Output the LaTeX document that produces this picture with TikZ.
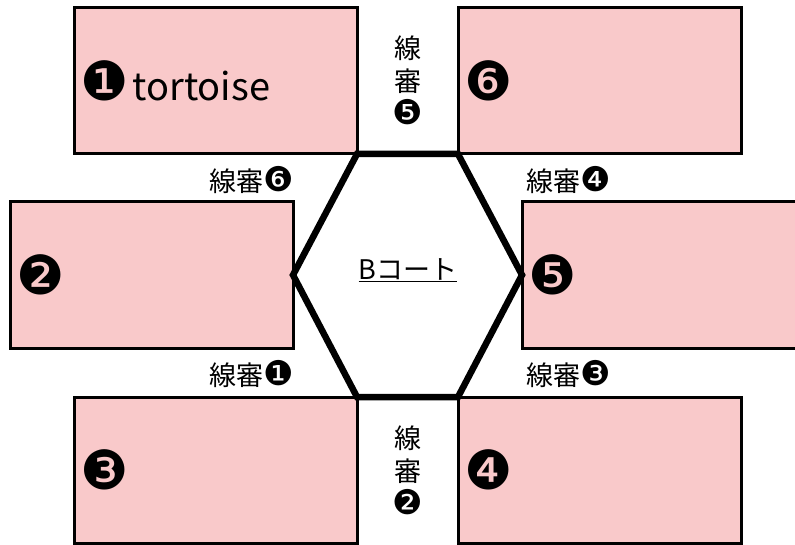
\documentclass[tikz,border=0pt]{standalone}
\usepackage{fontspec}
\setmainfont{Noto Sans CJK JP}
\newfontfamily\dv{DejaVu Sans}
\definecolor{boxpink}{RGB}{249,201,202}
\tikzset{
  court/.style={draw=black, line width=3pt, fill=boxpink, minimum width=283pt, minimum height=146pt, inner sep=0pt, outer sep=0pt},
  hexline/.style={draw=black, line width=6.5pt, line join=miter},
  lbl/.style={inner sep=0pt, font=\fontsize{27}{33}\selectfont},
  vlbl/.style={inner sep=0pt, align=center, font=\fontsize{27}{33}\selectfont},
  num/.style={inner sep=0pt, anchor=west, font=\fontsize{38}{40}\selectfont},
}
\newcommand{\cnum}[1]{{\dv\fontsize{54}{54}\selectfont #1}}
\newcommand{\snum}[1]{{\dv\fontsize{34}{34}\selectfont #1}}
\begin{document}
\begin{tikzpicture}[x=1pt,y=-1pt]
\useasboundingbox (0,0) rectangle (795,545);
\fill[white] (0,0) rectangle (795,545);
% courts
\node[court] (b1) at (215.5,81) {};
\node[court] (b6) at (599.5,81) {};
\node[court] (b2) at (151.5,275) {};
\node[court] (b5) at (663.5,275) {};
\node[court] (b3) at (215.5,470) {};
\node[court] (b4) at (599.5,470) {};
% hexagon
\draw[hexline] (b1.south east) -- (b6.south west) -- (b5.west) -- (b4.north west) -- (b3.north east) -- (b2.east) -- cycle;
% numbers in courts
\node[num] (n1) at ([xshift=6pt]b1.west) {\cnum{❶}\hspace{4pt}tortoise};
\node[num] (n2) at ([xshift=6pt]b2.west) {\cnum{❷}};
\node[num] (n3) at ([xshift=6pt]b3.west) {\cnum{❸}};
\node[num] (n4) at ([xshift=6pt]b4.west) {\cnum{❹}};
\node[num] (n5) at ([xshift=6pt]b5.west) {\cnum{❺}};
\node[num] (n6) at ([xshift=6pt]b6.west) {\cnum{❻}};
% centre label
\node[lbl] (court) at (408,270) {\underline{Bコート}};
% line judges
\node[vlbl] (j5) at (408,80) {線\\審\\\snum{❺}};
\node[vlbl] (j2) at (408,470) {線\\審\\\snum{❷}};
\node[lbl, anchor=east] (j6) at (294,180) {線審\snum{❻}};
\node[lbl, anchor=west] (j4) at (526,180) {線審\snum{❹}};
\node[lbl, anchor=east] (j1) at (294,374) {線審\snum{❶}};
\node[lbl, anchor=west] (j3) at (526,374) {線審\snum{❸}};
\end{tikzpicture}
\end{document}
